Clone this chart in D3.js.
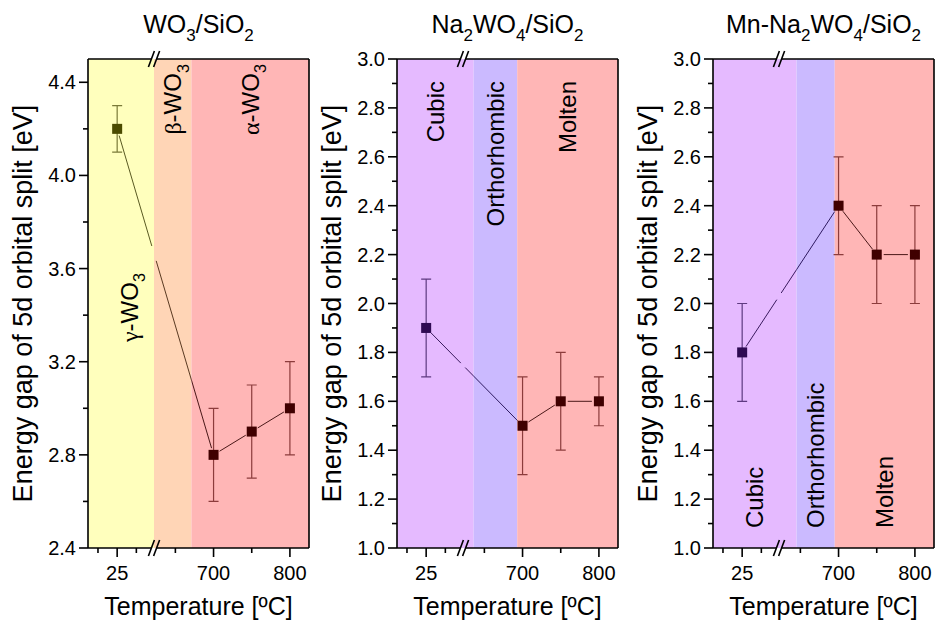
<!DOCTYPE html>
<html><head><meta charset="utf-8">
<script src="https://cdn.jsdelivr.net/npm/d3@7"></script>
<style>body{margin:0;background:#fff} text{font-family:"Liberation Sans",Arial,sans-serif;fill:#000}</style>
</head><body><svg id="c" width="935" height="624"></svg>
<script>
// ---------- data ----------
const temps = [25, 700, 750, 800];
const wo3Gap = [4.2, 2.8, 2.9, 3.0];
const wo3Err = [0.1, 0.2, 0.2, 0.2];
const naGap = [1.9, 1.5, 1.6, 1.6];
const naErr = [0.2, 0.2, 0.2, 0.1];
const mnGap = [1.8, 2.4, 2.2, 2.2];
const mnErr = [0.2, 0.2, 0.2, 0.2];

const wo3Phases = ["γ-WO_3", "β-WO_3", "α-WO_3"];
const wo3Bounds = [622, 671];          // phase transition temperatures (°C)
const naPhases = ["Cubic", "Orthorhombic", "Molten"];
const naBounds = [636, 693];
const mnPhases = ["Cubic", "Orthorhombic", "Molten"];
const mnBounds = [645, 695];

const titles = ["WO_3/SiO_2", "Na_2WO_4/SiO_2", "Mn-Na_2WO_4/SiO_2"];
const xTickLabels = [25, 700, 800];
const xMinorTicks = [0, 50, 650, 750];
const wo3YTicks = [2.4, 2.8, 3.2, 3.6, 4.0, 4.4];
const naYTicks = [1.0, 1.2, 1.4, 1.6, 1.8, 2.0, 2.2, 2.4, 2.6, 2.8, 3.0];
const yLabel = "Energy gap of 5d orbital split [eV]";
const xLabel = "Temperature [ºC]";

// ---------- style ----------
const palettes = [
  ["yellow", "peach", "pink"],
  ["lavender", "ortho", "pink"],
  ["lavender", "ortho", "pink"]
];
const styleOf = {
  yellow:   {fill: "#ffffbd", marker: "#4b4b00", err: "#7a7a38", line: "#5a5a22"},
  peach:    {fill: "#ffd5b6", marker: "#4a2200", err: "#8a5a3a", line: "#5a3a22"},
  pink:     {fill: "#ffb6b6", marker: "#400000", err: "#8c3c3c", line: "#4a1818"},
  lavender: {fill: "#e5baff", marker: "#2e0a52", err: "#5e3a80", line: "#3a1a5e"},
  ortho:    {fill: "#cbbaff", marker: "#24105a", err: "#4e3a8a", line: "#2e1a60"}
};
const plotTop = 59, plotH = 489, plotW = 221;
const lefts = [88, 397, 713];
const breakPx = 66;
const labelCfg = [
  {mode: "top", y: 64, dx: [8, 0, 0], anchorOverride: ["bottom", null, null], yBottom: 342},
  {mode: "top", y: 81, dx: [0, 0, 0], anchorOverride: [null, null, null]},
  {mode: "bottom", y: 528, dx: [0, 0, 0], anchorOverride: [null, null, null]}
];

const svg = d3.select("#c");
const FS_T = 25, FS_TICK = 20, FS_XLAB = 25, FS_YLAB = 27, FS_BAND = 24;

function rich(sel, str, fs) {
  const parts = [];
  let buf = "";
  for (let i = 0; i < str.length; i++) {
    const ch = str[i];
    if (ch === "_") { if (buf) parts.push({t: buf}); buf = ""; parts.push({t: str[i + 1], sub: true}); i++; }
    else if (/[α-ω]/.test(ch)) { if (buf) parts.push({t: buf}); buf = ""; parts.push({t: ch, greek: true}); }
    else buf += ch;
  }
  if (buf) parts.push({t: buf});
  let shifted = false;
  parts.forEach(p => {
    const ts = sel.append("tspan").text(p.t);
    if (p.sub) { ts.attr("font-size", fs * 0.68); if (!shifted) ts.attr("dy", fs * 0.3); shifted = true; }
    else if (shifted) { ts.attr("dy", -fs * 0.3); shifted = false; }
    if (p.greek) ts.style("font-family", "'Liberation Serif','DejaVu Serif',serif");
  });
}

const panels = [
  {gap: wo3Gap, err: wo3Err, yDomain: [2.4, 4.5], yTicks: wo3YTicks, phases: wo3Phases, bounds: wo3Bounds},
  {gap: naGap, err: naErr, yDomain: [1.0, 3.0], yTicks: naYTicks, phases: naPhases, bounds: naBounds},
  {gap: mnGap, err: mnErr, yDomain: [1.0, 3.0], yTicks: naYTicks, phases: mnPhases, bounds: mnBounds}
];

const defs = svg.append("defs");

panels.forEach((p, pi) => {
  const g = svg.append("g").attr("transform", `translate(${lefts[pi]},${plotTop})`);
  const xl = d3.scaleLinear().domain([-13, 73]).range([0, breakPx]);
  const xr = d3.scaleLinear().domain([622, 825]).range([breakPx, plotW]);
  const x = t => t < 300 ? xl(t) : xr(t);
  const y = d3.scaleLinear().domain(p.yDomain).range([plotH, 0]);

  // bands
  const edges = [0, ...p.bounds.map(b => xr(b)), plotW];
  const bands = p.phases.map((ph, i) => ({name: ph, x0: edges[i], x1: edges[i + 1], st: styleOf[palettes[pi][i]]}));
  g.selectAll("rect.band").data(bands).join("rect").attr("class", "band")
    .attr("x", d => d.x0).attr("y", 0).attr("width", d => d.x1 - d.x0).attr("height", plotH)
    .attr("fill", d => d.st.fill);
  bands.forEach((b, bi) => {
    defs.append("clipPath").attr("id", `cp${pi}_${bi}`).append("rect")
      .attr("x", b.x0).attr("y", 0).attr("width", b.x1 - b.x0).attr("height", plotH);
  });
  const bandAt = px => bands.find(b => px >= b.x0 && px <= b.x1) || bands[bands.length - 1];

  // band labels
  const lc = labelCfg[pi];
  bands.forEach((b, bi) => {
    const cx = (b.x0 + b.x1) / 2 + lc.dx[bi];
    const mode = lc.anchorOverride[bi] || lc.mode;
    const yy = mode === "top" ? lc.y - plotTop : (lc.anchorOverride[bi] ? lc.yBottom : lc.y) - plotTop;
    const t = g.append("text").attr("transform", `translate(${cx},${yy}) rotate(-90)`)
      .attr("text-anchor", mode === "top" ? "end" : "start")
      .attr("dy", "0.36em").attr("font-size", FS_BAND);
    rich(t, b.name, FS_BAND);
  });

  // connecting lines (segmented, gap around markers and break)
  const pts = temps.map((t, i) => [x(t), y(p.gap[i])]);
  const segs = [];
  const gapM = 7, gapB = 2.2;
  for (let k = 0; k < pts.length - 1; k++) {
    const [x1, y1] = pts[k], [x2, y2] = pts[k + 1];
    const L = Math.hypot(x2 - x1, y2 - y1), ux = (x2 - x1) / L, uy = (y2 - y1) / L;
    const s = [x1 + ux * gapM, y1 + uy * gapM], e = [x2 - ux * gapM, y2 - uy * gapM];
    if (x1 < breakPx && x2 > breakPx) {
      const at = xx => [xx, y1 + (y2 - y1) * (xx - x1) / (x2 - x1)];
      segs.push([s, at(breakPx - gapB)]);
      segs.push([at(breakPx + gapB), e]);
    } else segs.push([s, e]);
  }
  const segPath = segs.map(([a, b]) => `M${a[0]},${a[1]}L${b[0]},${b[1]}`).join("");
  bands.forEach((b, bi) => {
    g.append("path").attr("clip-path", `url(#cp${pi}_${bi})`)
      .attr("d", segPath).attr("fill", "none").attr("stroke", b.st.line).attr("stroke-width", 1);
  });

  // error bars
  const cap = 5;
  temps.forEach((t, i) => {
    const cx = x(t), st = bandAt(cx).st;
    const yt = y(p.gap[i] + p.err[i]), yb = y(p.gap[i] - p.err[i]);
    g.append("path").attr("d", `M${cx},${yt}L${cx},${yb}M${cx - cap},${yt}L${cx + cap},${yt}M${cx - cap},${yb}L${cx + cap},${yb}`)
      .attr("fill", "none").attr("stroke", st.err).attr("stroke-width", 1.2);
  });
  // markers
  g.selectAll("rect.m").data(temps).join("rect").attr("class", "m")
    .attr("x", (t) => x(t) - 5).attr("y", (t, i) => y(p.gap[i]) - 5)
    .attr("width", 10).attr("height", 10)
    .attr("fill", t => bandAt(x(t)).st.marker);

  // frame with break
  const bg = 2.6;
  const frame = `M0,0L0,${plotH}M${plotW},0L${plotW},${plotH}` +
    `M0,0L${breakPx - bg},0M${breakPx + bg},0L${plotW},0` +
    `M0,${plotH}L${breakPx - bg},${plotH}M${breakPx + bg},${plotH}L${plotW},${plotH}`;
  g.append("path").attr("d", frame).attr("fill", "none").attr("stroke", "#000").attr("stroke-width", 1.6);
  [0, plotH].forEach(yy => {
    [-bg, bg].forEach(o => {
      g.append("line").attr("x1", breakPx + o - 3).attr("y1", yy + 8).attr("x2", breakPx + o + 3).attr("y2", yy - 8)
        .attr("stroke", "#000").attr("stroke-width", 1.6);
    });
  });

  // y axis ticks
  const yt = p.yTicks;
  const yMinor = yt.slice(0, -1).map((v, i) => (v + yt[i + 1]) / 2);
  yt.forEach(v => {
    g.append("line").attr("x1", -9).attr("x2", 0).attr("y1", y(v)).attr("y2", y(v)).attr("stroke", "#000").attr("stroke-width", 1.6);
    g.append("text").attr("x", -12).attr("y", y(v)).attr("dy", "0.35em").attr("text-anchor", "end")
      .attr("font-size", FS_TICK).text(d3.format(".1f")(v));
  });
  yMinor.forEach(v => {
    g.append("line").attr("x1", -5).attr("x2", 0).attr("y1", y(v)).attr("y2", y(v)).attr("stroke", "#000").attr("stroke-width", 1.6);
  });
  // x axis ticks
  xTickLabels.forEach(v => {
    g.append("line").attr("x1", x(v)).attr("x2", x(v)).attr("y1", plotH).attr("y2", plotH + 9).attr("stroke", "#000").attr("stroke-width", 1.6);
    g.append("text").attr("x", x(v)).attr("y", plotH + 32).attr("text-anchor", "middle").attr("font-size", FS_TICK).text(v);
  });
  xMinorTicks.forEach(v => {
    g.append("line").attr("x1", x(v)).attr("x2", x(v)).attr("y1", plotH).attr("y2", plotH + 5).attr("stroke", "#000").attr("stroke-width", 1.6);
  });

  // labels
  const tt = g.append("text").attr("x", plotW / 2).attr("y", 33 - plotTop).attr("text-anchor", "middle").attr("font-size", FS_T);
  rich(tt, titles[pi], FS_T);
  g.append("text").attr("x", plotW / 2).attr("y", 615 - plotTop).attr("text-anchor", "middle").attr("font-size", FS_XLAB).text(xLabel);
  g.append("text").attr("transform", `translate(-66,${plotH / 2}) rotate(-90)`).attr("dy", "0.36em")
    .attr("text-anchor", "middle").attr("font-size", FS_YLAB).text(yLabel);
});
</script></body></html>
